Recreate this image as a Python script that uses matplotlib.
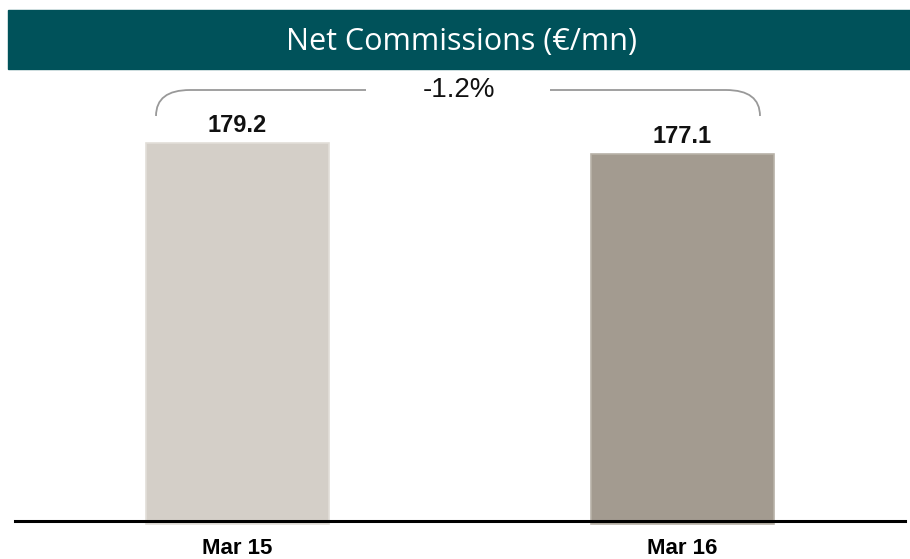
import matplotlib
matplotlib.use('Agg')
from matplotlib import pyplot as plt
from matplotlib.patches import Rectangle
from matplotlib.path import Path
from matplotlib.patches import PathPatch

periods = ['Mar 15', 'Mar 16']
values = [179.2, 177.1]
bar_colors = ['#D4CFC8', '#A39B90']
change_label = '-1.2%'
title = 'Net Commissions (€/mn)'

W, H = 910, 559
fig = plt.figure(figsize=(W / 100, H / 100), dpi=100)

def px(x, y):
    # pixel coords (top-left origin) -> figure fraction
    return x / W, 1 - y / H

# title banner
x0, y0 = px(8, 69)
x1, y1 = px(910, 10)
fig.patches.append(Rectangle((x0, y0), x1 - x0, y1 - y0, transform=fig.transFigure,
                             color='#00525A', zorder=0))
fig.text(*px(462, 42), title, color='white', ha='center', va='center',
         fontsize=22, family=['Open Sans', 'DejaVu Sans'])

# axes: from x=15..905, y=70..521
ax_l, ax_b = px(15, 521)
ax_r, ax_t = px(905, 70)
ax = fig.add_axes([ax_l, ax_b, ax_r - ax_l, ax_t - ax_b])
ax.set_xlim(-0.5, 1.5)
ax.set_ylim(105, 193.5)
base = 104.4  # bars poke slightly below the axis line

xpos = range(len(values))
ax.bar(xpos, [v - base for v in values], width=0.41, bottom=base, color=bar_colors,
       edgecolor=['#E2DED8', '#B8B2A8'], linewidth=1.2, zorder=1, clip_on=False)

narrow = ['Liberation Sans Narrow', 'Liberation Sans', 'DejaVu Sans']
for x, v in zip(xpos, values):
    ax.annotate(f'{v:.1f}', xy=(x, v), xytext=(0, 4), textcoords='offset points',
                ha='center', va='bottom', fontsize=17, fontweight='bold',
                family=narrow, color='#111111')

for sp in ['top', 'right', 'left']:
    ax.spines[sp].set_visible(False)
ax.spines['bottom'].set_linewidth(2.2)
ax.spines['bottom'].set_color('black')
ax.spines['bottom'].set_zorder(3)
ax.set_yticks([])
ax.set_xticks(list(xpos))
ax.set_xticklabels(periods, fontsize=16, fontweight='bold', family=narrow)
ax.tick_params(axis='x', length=0, pad=12)

# bracket between bars, drawn in pixel space
def bracket(pts):
    verts = [px(*p) for p in pts]
    codes = [Path.MOVETO, Path.CURVE3, Path.CURVE3, Path.LINETO]
    fig.patches.append(PathPatch(Path(verts, codes), transform=fig.transFigure,
                                 fill=False, edgecolor='#999999', linewidth=1.3))

bracket([(156, 116), (156, 90), (190, 90), (366, 90)])
bracket([(760, 116), (760, 90), (726, 90), (550, 90)])
fig.text(*px(459, 90), change_label, ha='center', va='center', fontsize=20,
         family=['Liberation Sans', 'DejaVu Sans'], color='#111111')

plt.savefig('out.png', dpi=100)
